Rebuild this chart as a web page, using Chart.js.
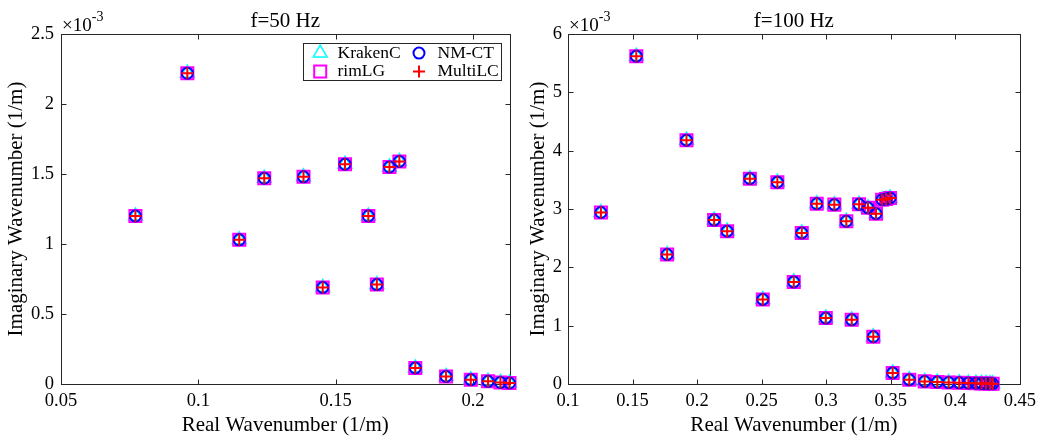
<!DOCTYPE html>
<html>
<head>
<meta charset="utf-8">
<script src="https://cdn.jsdelivr.net/npm/chart.js@4.4.0/dist/chart.umd.min.js"></script>
<style>
  body { margin: 0; background: #fff; }
  #painel { position: relative; width: 1042px; height: 438px; }
  #painel canvas { position: absolute; top: 0; }
  #grafico50 { left: 0; }
  #grafico100 { left: 520px; }
</style>
</head>
<body>
<div id="painel">
  <canvas id="grafico50" width="520" height="438"></canvas>
  <canvas id="grafico100" width="522" height="438"></canvas>
</div>
<script>
const familia = "'Liberation Serif', 'Times New Roman', serif";

// f = 50 Hz (parte imaginaria em 1e-3)
const real50 = [0.0771, 0.0960, 0.1149, 0.1240, 0.1383, 0.1453, 0.1534, 0.1619, 0.1650,
  0.1696, 0.1732, 0.1790, 0.1902, 0.1992, 0.2055, 0.2100, 0.2133];
const imag50 = [1.20, 2.22, 1.03, 1.47, 1.48, 0.69, 1.57, 1.20, 0.71,
  1.55, 1.59, 0.115, 0.054, 0.031, 0.019, 0.011, 0.007];
const ticksX50 = [0.05, 0.1, 0.15, 0.2];
const ticksY50 = [0, 0.5, 1, 1.5, 2, 2.5];

// f = 100 Hz
const real100 = [0.1255, 0.1529, 0.1768, 0.1918, 0.2132, 0.2233, 0.2409, 0.2509, 0.2622,
  0.2749, 0.2811, 0.2927, 0.2997, 0.3063, 0.3156, 0.3198, 0.3255, 0.3324, 0.3365, 0.3386,
  0.3433, 0.3464, 0.3495, 0.3515, 0.3644, 0.3763, 0.3861, 0.3949, 0.4031, 0.4101, 0.4160,
  0.4204, 0.4238, 0.4269, 0.4290];
const imag100 = [2.94, 5.62, 2.22, 4.18, 2.81, 2.62, 3.52, 1.45, 3.46,
  1.75, 2.59, 3.09, 1.13, 3.075, 2.79, 1.10, 3.08, 3.02, 0.81, 2.92,
  3.16, 3.17, 3.19, 0.19, 0.074, 0.045, 0.034, 0.025, 0.020, 0.017, 0.014,
  0.010, 0.008, 0.006, 0.004];
const ticksX100 = [0.1, 0.15, 0.2, 0.25, 0.3, 0.35, 0.4, 0.45];
const ticksY100 = [0, 1, 2, 3, 4, 5, 6];

// ordem da legenda (linha a linha)
const metodos = ["KrakenC", "NM-CT", "rimLG", "MultiLC"];

const estilos = {
  KrakenC: { pointStyle: "triangle", radius: 8, cor: "#00ffff", largura: 1.5, ordem: 3 },
  "NM-CT": { pointStyle: "circle", radius: 5.5, cor: "#0000ff", largura: 2, ordem: 1 },
  rimLG: { pointStyle: "rect", radius: 8.5, cor: "#ff00ff", largura: 2, ordem: 2 },
  MultiLC: { pointStyle: "cross", radius: 6, cor: "#ff0000", largura: 2, ordem: 0 },
};

function montaPontos(reais, imags) {
  return reais.map((r, i) => ({ x: r, y: imags[i] }));
}

// caixa dos eixos, ticks para dentro, x10^-3 e legenda
const moldura = {
  id: "moldura",
  beforeDatasetsDraw(chart) {
    const { ctx, chartArea: a, scales } = chart;
    const l = Math.round(a.left) + 0.5, r = Math.round(a.right) + 0.5;
    const t = Math.round(a.top) + 0.5, b = Math.round(a.bottom) + 0.5;
    ctx.save();
    ctx.strokeStyle = "#262626";
    ctx.lineWidth = 1;
    ctx.strokeRect(l, t, r - l, b - t);
    ctx.beginPath();
    scales.x.ticks.forEach((tk) => {
      const px = Math.round(scales.x.getPixelForValue(tk.value)) + 0.5;
      ctx.moveTo(px, b); ctx.lineTo(px, b - 5);
      ctx.moveTo(px, t); ctx.lineTo(px, t + 5);
    });
    scales.y.ticks.forEach((tk) => {
      const py = Math.round(scales.y.getPixelForValue(tk.value)) + 0.5;
      ctx.moveTo(l, py); ctx.lineTo(l + 5, py);
      ctx.moveTo(r, py); ctx.lineTo(r - 5, py);
    });
    ctx.stroke();
    ctx.restore();
  },
  afterDraw(chart, args, opts) {
    const { ctx, chartArea: a } = chart;
    ctx.save();
    ctx.fillStyle = "#000";
    ctx.textBaseline = "alphabetic";
    ctx.textAlign = "left";
    ctx.font = `19px ${familia}`;
    ctx.fillText("\u00d710", a.left + 1, a.top - 3);
    const w = ctx.measureText("\u00d710").width;
    ctx.font = `14px ${familia}`;
    ctx.fillText("-3", a.left + 1 + w, a.top - 13);

    if (opts.legenda) {
      const cx = a.right - 207, cy = a.top + 8.5;
      ctx.fillStyle = "#fff";
      ctx.fillRect(cx, cy, 198, 37);
      ctx.strokeStyle = "#262626";
      ctx.lineWidth = 1;
      ctx.strokeRect(Math.round(cx) + 0.5, Math.round(cy) + 0.5, 198, 37);
      const colSimbolo = [17.7, 116.5], colTexto = [35, 135], linhas = [10.6, 29];
      metodos.forEach((nome, i) => {
        const col = i % 2, lin = Math.floor(i / 2);
        const e = estilos[nome];
        ctx.strokeStyle = e.cor;
        ctx.fillStyle = "rgba(0,0,0,0)";
        ctx.lineWidth = e.largura;
        Chart.helpers.drawPoint(ctx, {
          pointStyle: e.pointStyle, radius: e.radius, rotation: 0, borderWidth: e.largura,
        }, cx + colSimbolo[col], cy + linhas[lin]);
        ctx.fillStyle = "#000";
        ctx.font = `17.5px ${familia}`;
        ctx.textBaseline = "middle";
        ctx.fillText(nome, cx + colTexto[col], cy + linhas[lin]);
      });
    }
    ctx.restore();
  },
};

function criaGrafico(canvasId, titulo, reais, imags, ticksX, ticksY, cfg) {
  const pontos = montaPontos(reais, imags);
  const datasets = metodos.map((nome) => {
    const e = estilos[nome];
    return {
      label: nome,
      data: pontos,
      pointStyle: e.pointStyle,
      pointRadius: e.radius,
      pointBorderColor: e.cor,
      pointBackgroundColor: "rgba(0,0,0,0)",
      pointBorderWidth: e.largura,
      showLine: false,
      clip: false,
      order: e.ordem,
    };
  });
  return new Chart(document.getElementById(canvasId), {
    type: "scatter",
    data: { datasets },
    options: {
      responsive: false,
      animation: false,
      events: [],
      layout: { padding: { top: 0, right: cfg.direita, bottom: 0, left: 0 } },
      plugins: {
        legend: { display: false },
        tooltip: { enabled: false },
        title: {
          display: true,
          text: titulo,
          fullSize: false,
          color: "#000",
          font: { family: familia, size: 21, weight: "normal" },
          padding: { top: 8.5, bottom: 0.3 },
        },
        moldura: { legenda: cfg.legenda },
      },
      scales: {
        x: {
          type: "linear",
          min: ticksX[0],
          max: cfg.xMax,
          afterBuildTicks: (s) => { s.ticks = ticksX.map((v) => ({ value: v })); },
          afterFit: (s) => { s.height = 54; },
          grid: { display: false, drawTicks: false },
          border: { display: false },
          ticks: {
            color: "#000", padding: 6, autoSkip: false, maxRotation: 0,
            font: { family: familia, size: 18.5 },
            callback: (v) => String(v),
          },
          title: {
            display: true, text: "Real Wavenumber (1/m)", color: "#000",
            font: { family: familia, size: 21 }, padding: { top: 0, bottom: 0 },
          },
        },
        y: {
          type: "linear",
          min: ticksY[0],
          max: ticksY[ticksY.length - 1],
          afterBuildTicks: (s) => { s.ticks = ticksY.map((v) => ({ value: v })); },
          afterFit: (s) => { s.width = cfg.esquerda; },
          grid: { display: false, drawTicks: false },
          border: { display: false },
          ticks: {
            color: "#000", padding: cfg.padY, autoSkip: false,
            font: { family: familia, size: 18.5 },
            callback: (v) => String(v),
          },
          title: {
            display: true, text: "Imaginary Wavenumber (1/m)", color: "#000",
            font: { family: familia, size: 21 }, padding: { top: cfg.padTituloY, bottom: 0 },
          },
        },
      },
    },
    plugins: [moldura],
  });
}

criaGrafico("grafico50", "f=50 Hz", real50, imag50, ticksX50, ticksY50, {
  xMax: Math.max(...real50), esquerda: 61, direita: 8, padY: 7, padTituloY: 3.5, legenda: true,
});
criaGrafico("grafico100", "f=100 Hz", real100, imag100, ticksX100, ticksY100, {
  xMax: ticksX100[ticksX100.length - 1], esquerda: 48, direita: 22, padY: 6, padTituloY: 5.5, legenda: false,
});
</script>
</body>
</html>
